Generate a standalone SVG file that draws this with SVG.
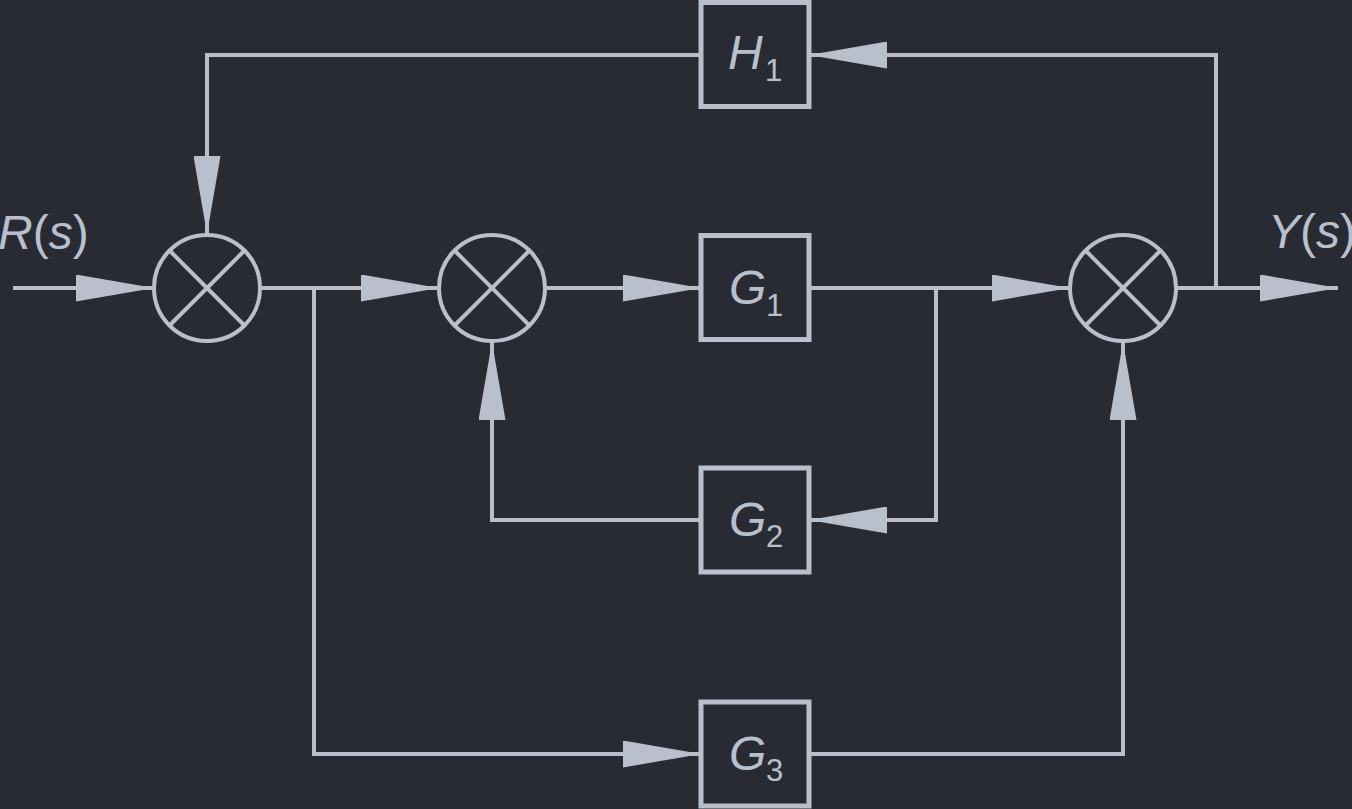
<svg xmlns="http://www.w3.org/2000/svg" width="1352" height="809" viewBox="0 0 1352 809">
<defs>
<style>
.bg{fill:#282b34}
.ln{fill:none;stroke:#b9c0cc;stroke-width:4;stroke-linejoin:miter;stroke-linecap:butt}
.box{fill:none;stroke:#b9c0cc;stroke-width:5}
.sum{fill:none;stroke:#b9c0cc;stroke-width:4}
.x{stroke:#b9c0cc;stroke-width:4}
.lbl{font-family:"Liberation Sans",Arial,sans-serif;fill:#b9c0cc;font-size:48px}
.it{font-style:italic}
.sub{font-size:31px}
</style>
<marker id="arr" markerUnits="userSpaceOnUse" markerWidth="78" markerHeight="27" refX="78" refY="13.5" orient="auto" viewBox="0 0 78 27">
<path d="M0,0 L78,13.5 L0,27 Z" fill="#b9c0cc"/>
</marker>
</defs>
<rect class="bg" x="0" y="0" width="1352" height="809"/>

<g id="connectors">
<path class="ln" d="M13,288 H154" marker-end="url(#arr)"/>
<path class="ln" d="M260,288 H439" marker-end="url(#arr)"/>
<path class="ln" d="M314,288 V754 H701" marker-end="url(#arr)"/>
<path class="ln" d="M546,288 H701" marker-end="url(#arr)"/>
<path class="ln" d="M809,288 H1070" marker-end="url(#arr)"/>
<path class="ln" d="M936,288 V520 H809" marker-end="url(#arr)"/>
<path class="ln" d="M701,520 H492 V342" marker-end="url(#arr)"/>
<path class="ln" d="M809,754 H1123 V342" marker-end="url(#arr)"/>
<path class="ln" d="M1176,288 H1338" marker-end="url(#arr)"/>
<path class="ln" d="M1216,288 V55 H809" marker-end="url(#arr)"/>
<path class="ln" d="M701,55 H207 V234" marker-end="url(#arr)"/>
</g>

<g id="sum1">
<circle class="sum" cx="207" cy="288" r="53"/>
<line class="x" x1="170" y1="251" x2="244" y2="325"/>
<line class="x" x1="244" y1="251" x2="170" y2="325"/>
</g>
<g id="sum2">
<circle class="sum" cx="492" cy="288" r="53"/>
<line class="x" x1="455" y1="251" x2="529" y2="325"/>
<line class="x" x1="529" y1="251" x2="455" y2="325"/>
</g>
<g id="sum3">
<circle class="sum" cx="1123" cy="288" r="53"/>
<line class="x" x1="1086" y1="251" x2="1160" y2="325"/>
<line class="x" x1="1160" y1="251" x2="1086" y2="325"/>
</g>

<g id="H1">
<rect class="box" x="701" y="2.5" width="108" height="104"/>
<text class="lbl" x="728" y="69"><tspan class="it">H</tspan><tspan class="sub" x="765" y="81">1</tspan></text>
</g>
<g id="G1">
<rect class="box" x="701" y="235.5" width="108" height="104"/>
<text class="lbl" x="729" y="304"><tspan class="it">G</tspan><tspan class="sub" x="766" y="316">1</tspan></text>
</g>
<g id="G2">
<rect class="box" x="701" y="468" width="108" height="104"/>
<text class="lbl" x="729" y="536"><tspan class="it">G</tspan><tspan class="sub" x="766" y="547">2</tspan></text>
</g>
<g id="G3">
<rect class="box" x="701" y="702" width="108" height="104"/>
<text class="lbl" x="729" y="770"><tspan class="it">G</tspan><tspan class="sub" x="766" y="781">3</tspan></text>
</g>

<g id="labels">
<text class="lbl" x="-2" y="249"><tspan class="it">R</tspan>(<tspan class="it">s</tspan>)</text>
<text class="lbl" x="1268" y="248"><tspan class="it">Y</tspan>(<tspan class="it">s</tspan>)</text>
</g>
</svg>
